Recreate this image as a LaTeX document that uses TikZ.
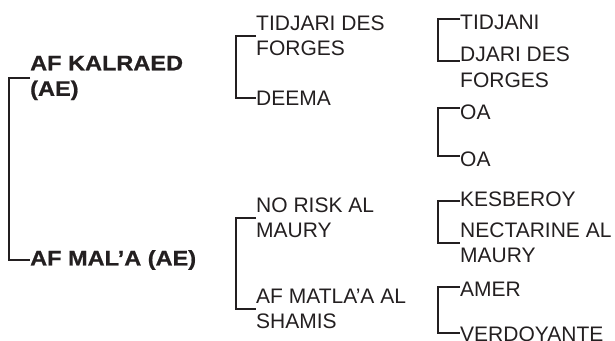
\documentclass[tikz,border=0pt]{standalone}
\usepackage{fontspec}
\setmainfont{Liberation Sans}
\newfontfamily\widebold[FakeStretch=1.12, BoldFeatures={FakeBold=0.8}]{Liberation Sans}
\usetikzlibrary{calc}

\definecolor{ink}{HTML}{231F20}

\tikzset{parent/.style={font=\widebold\bfseries\fontsize{21}{25.5}\selectfont, text=ink, anchor=west, inner sep=0pt, align=left},
	ancestor/.style={font=\fontsize{21}{25.5}\selectfont, text=ink, anchor=west, inner sep=0pt, align=left},
	bracket/.style={line width=1.8pt, draw=ink}}

\begin{document}
\begin{tikzpicture}[x=1pt,y=-1pt]
	\useasboundingbox (0,0) rectangle (615,340);

	\node[parent] (kalraed) at (30,78) {AF KALRAED\\(AE)};
	\node[parent] (mala) at (30,260) {AF MAL’A (AE)};

	\node[ancestor] (tidjari) at (256,36) {TIDJARI DES\\FORGES};
	\node[ancestor] (deema) at (256,98) {DEEMA};
	\node[ancestor] (norisk) at (256,218) {NO RISK AL\\MAURY};
	\node[ancestor] (matlaa) at (256,309) {AF MATLA'A AL\\SHAMIS};

	\node[ancestor] (tidjani) at (460,22) {TIDJANI};
	\node[ancestor] (djari) at (460,67.5) {DJARI DES\\FORGES};
	\node[ancestor] (oa-a) at (460,112) {OA};
	\node[ancestor] (oa-b) at (460,159.5) {OA};
	\node[ancestor] (kesberoy) at (460,199) {KESBEROY};
	\node[ancestor] (nectarine) at (460,243) {NECTARINE AL\\MAURY};
	\node[ancestor] (amer) at (460,289.5) {AMER};
	\node[ancestor] (verdoyante) at (460,334.5) {VERDOYANTE};

	\draw[bracket] (kalraed.west) -- ++(-21,0) |- (mala.west);

	\draw[bracket] (tidjari.west) -- ++(-20,0) |- (deema.west);
	\draw[bracket] (norisk.west) -- ++(-20,0) |- (matlaa.west);

	\draw[bracket] ([yshift=3pt]tidjani.west) -- ++(-22,0) |- ([yshift=6.5pt]djari.west);
	\draw[bracket] ([yshift=4pt]oa-a.west) -- ++(-22,0) |- ([yshift=3.5pt]oa-b.west);
	\draw[bracket] ([yshift=-2pt]kesberoy.west) -- ++(-22,0) |- (nectarine.west);
	\draw[bracket] ([yshift=2.5pt]amer.west) -- ++(-22,0) |- ([yshift=1.5pt]verdoyante.west);

\end{tikzpicture}
\end{document}
